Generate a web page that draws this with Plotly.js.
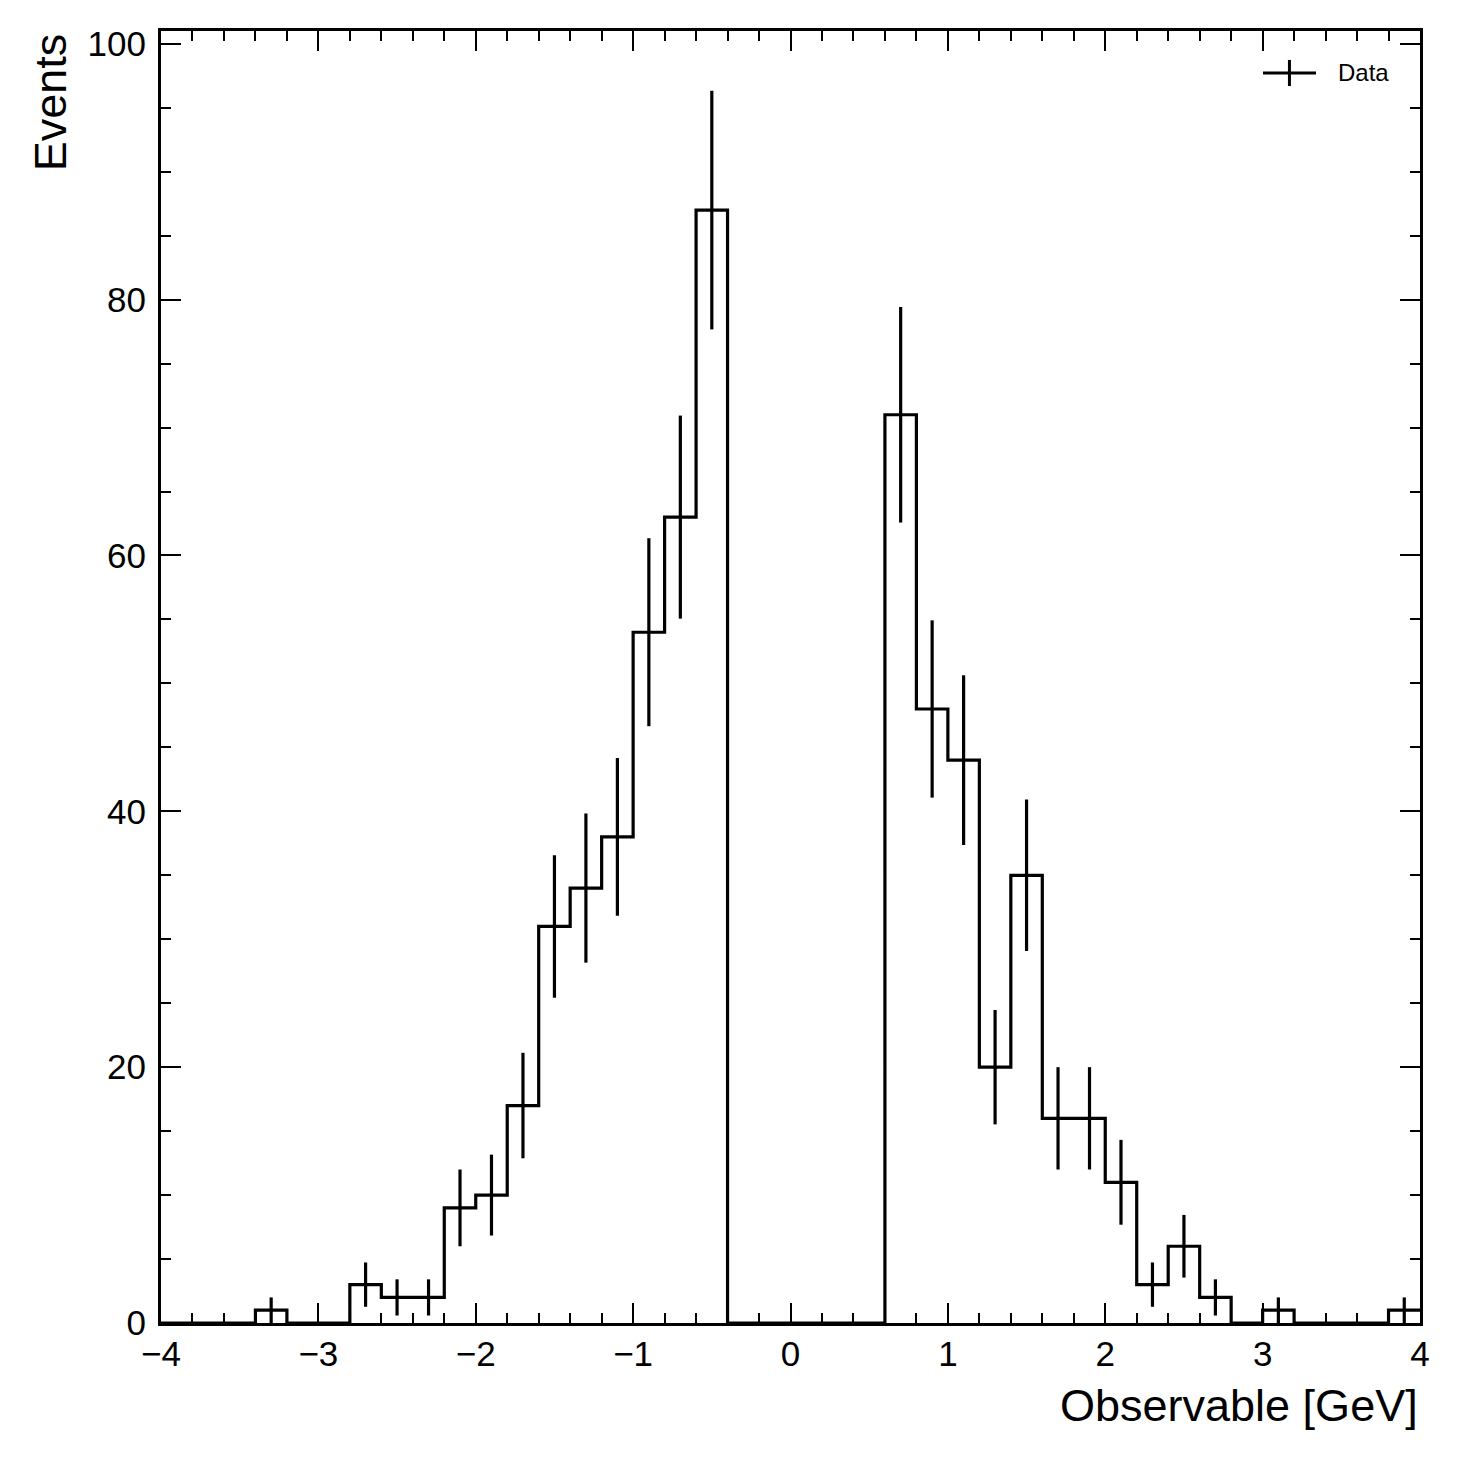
<!DOCTYPE html>
<html>
<head>
<meta charset="utf-8">
<script src="https://cdn.plot.ly/plotly-3.0.1.min.js"></script>
<style>html,body{margin:0;padding:0;background:#fff;}</style>
</head>
<body>
<div id="chart" style="width:1461px;height:1459px;"></div>
<script>
// Bin centers (bin width 0.2 GeV)
const binCenters = [-3.9,-3.7,-3.5,-3.3,-3.1,-2.9,-2.7,-2.5,-2.3,-2.1,
                    -1.9,-1.7,-1.5,-1.3,-1.1,-0.9,-0.7,-0.5,-0.3,-0.1,
                     0.1, 0.3, 0.5, 0.7, 0.9, 1.1, 1.3, 1.5, 1.7, 1.9,
                     2.1, 2.3, 2.5, 2.7, 2.9, 3.1, 3.3, 3.5, 3.7, 3.9];
const binWidth = 0.2;
// Event counts per bin
const counts = [0, 0, 0, 1, 0, 0, 3, 2, 2, 9,
                10, 17, 31, 34, 38, 54, 63, 87, 0, 0,
                0, 0, 0, 71, 48, 44, 20, 35, 16, 16,
                11, 3, 6, 2, 0, 1, 0, 0, 0, 1];
const xTickVals = [-4,-3,-2,-1,0,1,2,3,4];
const yTickVals = [0,20,40,60,80,100];
const seriesName = "Data";

// step outline from bin edges
const edges = binCenters.map(c => c - binWidth/2);
edges.push(binCenters[binCenters.length-1] + binWidth/2);
const stepY = counts.slice();
stepY.push(counts[counts.length-1]);

// error bars (Poisson) on non-empty bins
const ex = [], ey = [], ee = [];
binCenters.forEach((c,i) => { if (counts[i] > 0) { ex.push(c); ey.push(counts[i]); ee.push(Math.sqrt(counts[i])); } });

const font = "Liberation Sans, Arial, Helvetica, sans-serif";

const traces = [
  {x: edges, y: stepY, type: 'scatter', mode: 'lines', line: {shape: 'hv', color: '#000', width: 3.2},
   name: seriesName, showlegend: false, hoverinfo: 'skip'},
  {x: ex, y: ey, type: 'scatter', mode: 'markers', marker: {size: 1, color: 'rgba(0,0,0,0)'},
   error_y: {type: 'data', array: ee, visible: true, color: '#000', thickness: 3.2, width: 0},
   showlegend: false, name: seriesName}
];

const axisCommon = {
  showline: true, linecolor: '#000', linewidth: 3, mirror: 'ticks',
  ticks: 'inside', ticklen: 20, tickwidth: 2, tickcolor: '#000',
  showgrid: false, zeroline: false,
  tickfont: {family: font, size: 35, color: '#000'}
};

const layout = {
  width: 1461, height: 1459,
  margin: {l: 161, r: 41, t: 31, b: 136},
  paper_bgcolor: '#fff', plot_bgcolor: '#fff',
  showlegend: false,
  xaxis: Object.assign({}, axisCommon, {
    range: [-4, 4], tickmode: 'array', tickvals: xTickVals,
    ticklabelstandoff: -2,
    minor: {dtick: 0.2, ticks: 'inside', ticklen: 10, tickwidth: 2, tickcolor: '#000', showgrid: false}
  }),
  yaxis: Object.assign({}, axisCommon, {
    range: [0, 101], tickmode: 'array', tickvals: yTickVals,
    ticklabelstandoff: 5,
    minor: {dtick: 5, ticks: 'inside', ticklen: 10, tickwidth: 2, tickcolor: '#000', showgrid: false}
  }),
  annotations: [
    {text: 'Observable [GeV]', xref: 'paper', yref: 'paper', x: 1.0, y: -0.0635,
     xanchor: 'right', yanchor: 'middle', showarrow: false,
     font: {family: font, size: 45, color: '#000'}},
    {text: 'Events', xref: 'paper', yref: 'paper', x: -0.088, y: 1.0,
     xanchor: 'center', yanchor: 'top', textangle: -90, showarrow: false,
     font: {family: font, size: 45, color: '#000'}},
    {text: seriesName, xref: 'paper', yref: 'paper', x: 0.9333, y: 0.9675,
     xanchor: 'left', yanchor: 'middle', showarrow: false,
     font: {family: font, size: 24, color: '#000'}}
  ],
  shapes: [
    {type: 'line', xref: 'paper', yref: 'paper', x0: 0.8753, x1: 0.9174, y0: 0.9675, y1: 0.9675,
     line: {color: '#000', width: 3}},
    {type: 'line', xref: 'paper', yref: 'paper', x0: 0.8963, x1: 0.8963, y0: 0.9574, y1: 0.9776,
     line: {color: '#000', width: 3}}
  ]
};

Plotly.newPlot('chart', traces, layout, {staticPlot: true, displayModeBar: false});
</script>
</body>
</html>
